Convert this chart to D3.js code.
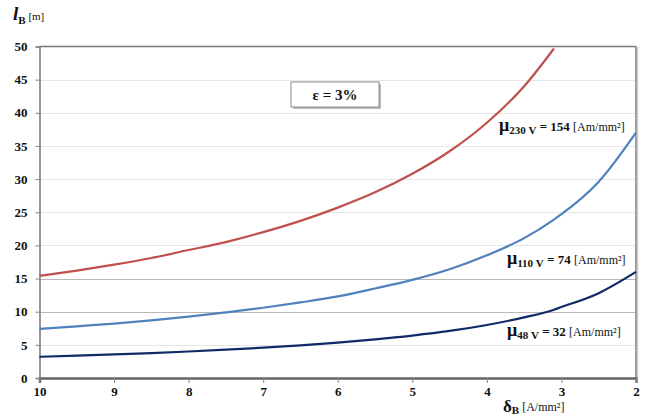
<!DOCTYPE html>
<html><head><meta charset="utf-8">
<script src="https://cdn.jsdelivr.net/npm/d3@7"></script>
<style>
body{margin:0;background:#fff;}
svg text{font-weight:bold;fill:#111;}
</style></head>
<body>
<svg id="c" width="648" height="418"></svg>
<script>
const deltaB = [10, 9.5, 9, 8.5, 8, 7.5, 7, 6.5, 6, 5.5, 5, 4.5, 4, 3.5, 3.1, 3, 2.5, 2];
const l230 = [15.4, 16.2, 17.1, 18.1, 19.3, 20.5, 22.0, 23.7, 25.7, 28.0, 30.8, 34.2, 38.5, 44.0, 49.7, null, null, null];
const l110 = [7.4, 7.8, 8.2, 8.7, 9.25, 9.9, 10.6, 11.4, 12.3, 13.5, 14.8, 16.4, 18.5, 21.1, 23.9, 24.7, 29.6, 37.0];
const l48  = [3.2, 3.37, 3.56, 3.76, 4.0, 4.27, 4.57, 4.92, 5.33, 5.82, 6.4, 7.1, 8.0, 9.14, 10.3, 10.7, 12.8, 16.0];
const xTicks = [10, 9, 8, 7, 6, 5, 4, 3, 2];
const yTicks = [0, 5, 10, 15, 20, 25, 30, 35, 40, 45, 50];
const seriesColors = ["#C0504D", "#4F81BD", "#0F2A66"];

const FONT = "'Liberation Serif', 'Times New Roman', Times, 'DejaVu Serif', serif";
const svg = d3.select("#c");
const L = 39.5, R = 636, T = 46.5, B = 378;
const x = d3.scaleLinear().domain([10, 2]).range([L, R]);
const y = d3.scaleLinear().domain([0, 50]).range([B, T]);

// grid
svg.append("g").selectAll("line").data(yTicks.filter(v => v > 0 && v < 50)).join("line")
  .attr("x1", L).attr("x2", R)
  .attr("y1", d => Math.round(y(d)) + 0.5).attr("y2", d => Math.round(y(d)) + 0.5)
  .attr("stroke", d => (d === 10 || d === 15) ? "#b8b8b8" : "#e6e6e6").attr("stroke-width", 1);

// border top/right
svg.append("line").attr("x1", L).attr("x2", R).attr("y1", T).attr("y2", T).attr("stroke", "#777").attr("stroke-width", 1.5);
svg.append("line").attr("x1", R).attr("x2", R).attr("y1", T).attr("y2", B).attr("stroke", "#777").attr("stroke-width", 1.5);
svg.append("line").attr("x1", R + 1.5).attr("x2", R + 1.5).attr("y1", T).attr("y2", B).attr("stroke", "#ccc").attr("stroke-width", 1.5);

// axes
const xAxis = svg.append("g").attr("transform", `translate(0,${B})`)
  .call(d3.axisBottom(x).tickValues(xTicks).tickSize(5).tickFormat(d3.format("d")));
xAxis.attr("font-family", null);
xAxis.select(".domain").attr("stroke", "#666").attr("stroke-width", 2.5);
xAxis.selectAll(".tick line").attr("stroke", "#888");
xAxis.selectAll("text").attr("font-size", 13).attr("y", 9).attr("dy", "0.71em").attr("fill", "#111").style("font-family", FONT);

const yAxis = svg.append("g").attr("transform", `translate(${L},0)`)
  .call(d3.axisLeft(y).tickValues(yTicks).tickSize(4).tickFormat(d3.format("d")));
yAxis.attr("font-family", null);
yAxis.select(".domain").attr("stroke", "#777").attr("stroke-width", 1.5);
yAxis.selectAll(".tick line").attr("stroke", "#888");
yAxis.selectAll("text").attr("font-size", 13).attr("x", -12).attr("fill", "#111").style("font-family", FONT);

// lines
const line = d3.line().defined(d => d[1] != null).x(d => x(d[0])).y(d => y(d[1])).curve(d3.curveMonotoneX);
[l230, l110, l48].forEach((s, i) => {
  svg.append("path").datum(deltaB.map((d, j) => [d, s[j]]))
    .attr("fill", "none").attr("stroke", seriesColors[i]).attr("stroke-width", 2.2)
    .attr("d", line);
});

// y label
const yl = svg.append("text").attr("x", 13).attr("y", 20).attr("font-size", 14).style("font-family", FONT);
yl.append("tspan").text("l").attr("font-style", "italic").attr("font-size", 19);
yl.append("tspan").text("B").attr("font-size", 11).attr("dy", 4);
yl.append("tspan").text(" [m]").attr("font-size", 11).attr("dy", -4).style("font-weight", "normal");

// x label
const xl = svg.append("text").attr("x", 503).attr("y", 412).attr("font-size", 17).style("font-family", FONT);
xl.append("tspan").text("δ");
xl.append("tspan").text("B").attr("font-size", 11).attr("dy", 2);
xl.append("tspan").text(" [A/mm²]").attr("font-size", 12).attr("dy", -3).style("font-weight", "normal");

// epsilon box
svg.append("rect").attr("x", 293).attr("y", 84).attr("width", 88).attr("height", 25).attr("fill", "#bbb");
svg.append("rect").attr("x", 291).attr("y", 82).attr("width", 88).attr("height", 25).attr("fill", "#fff").attr("stroke", "#888").attr("stroke-width", 1);
svg.append("text").attr("x", 335).attr("y", 100).attr("text-anchor", "middle").attr("font-size", 15).style("font-family", FONT).text("ε = 3%");

// annotations
const annots = [
  {x: 499, y: 131, sub: "230 V", val: "154"},
  {x: 507, y: 264, sub: "110 V", val: "74"},
  {x: 507, y: 336, sub: "48 V", val: "32"}
];
annots.forEach(a => {
  const t = svg.append("text").attr("x", a.x).attr("y", a.y).attr("font-size", 13).style("font-family", FONT);
  t.append("tspan").text("μ").attr("font-size", 18);
  t.append("tspan").text(a.sub).attr("font-size", 11).attr("dy", 3);
  t.append("tspan").text(" = " + a.val + " ").attr("dy", -3).attr("font-size", 13);
  t.append("tspan").text("[Am/mm²]").attr("font-size", 12).style("font-weight", "normal");
});
</script>
</body></html>
